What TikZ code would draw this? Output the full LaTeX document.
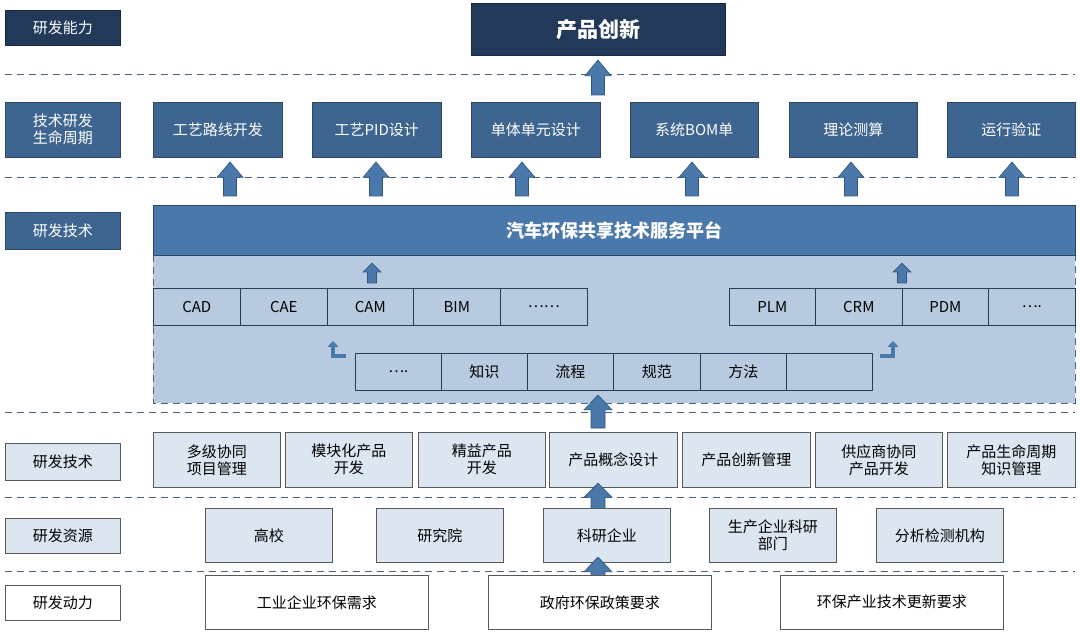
\documentclass[tikz,border=0pt]{standalone}
\usepackage{fontspec}
\setmainfont{Noto Sans CJK SC}
\usetikzlibrary{arrows.meta}
\definecolor{navy}{HTML}{22395A}
\definecolor{mblue}{HTML}{3D6590}
\definecolor{pbar}{HTML}{4A78AA}
\definecolor{panel}{HTML}{B7CADF}
\definecolor{lbox}{HTML}{DCE6F1}
\definecolor{arr}{HTML}{4A78AA}
\definecolor{arrd}{HTML}{2E5680}
\tikzset{
 bx/.style={draw=#1!70!black, line width=0.6pt, minimum height=0pt, inner sep=0pt, align=center, font=\fontsize{15}{17}\selectfont},
 dk/.style={bx=navy, fill=navy, text=white},
 md/.style={bx=mblue, fill=mblue, text=white},
 lt/.style={draw=gray!70!black, fill=lbox, line width=0.6pt, align=center, font=\fontsize{15}{17}\selectfont},
 wt/.style={draw=gray!70!black, fill=white, line width=0.6pt, align=center, font=\fontsize{15}{17}\selectfont},
 tl/.style={draw=mblue!60!black, fill=panel, line width=0.6pt, align=center, font=\fontsize{15}{17}\selectfont},
 sep/.style={dashed, dash pattern=on 7pt off 5pt, draw=navy!80, line width=1pt},
}
\newcommand{\bxat}[5]{\node[#1, minimum width=#4-#2, minimum height=#5-#3, anchor=north west] at (#2,#3)}
\newcommand{\blkarr}[4]{% x, ytop, ybot, half head width
 \pgfmathsetmacro{\hw}{#4}\pgfmathsetmacro{\sw}{#4*0.5}\pgfmathsetmacro{\hy}{#2+(#3-#2)*0.45}
 \filldraw[fill=arr, draw=arrd, line width=0.6pt] (#1,#2) -- (#1+\hw,\hy) -- (#1+\sw,\hy) -- (#1+\sw,#3) -- (#1-\sw,#3) -- (#1-\sw,\hy) -- (#1-\hw,\hy) -- cycle;}
\begin{document}
\begin{tikzpicture}[x=1pt,y=-1pt]
\useasboundingbox[fill=white] (0,0) rectangle (1080,639);
% separators
\foreach \y in {75,178,412,497,571} \draw[sep] (5,\y) -- (1075,\y);
% row 1
\bxat{dk}{5}{10}{120}{45} (L1) {研发能力};
\bxat{dk, font=\fontsize{21}{24}\selectfont\bfseries}{471}{3}{725}{55} (P) {产品创新};
\blkarr{598}{60}{95}{13}
% row 2
\bxat{md}{5}{102}{120}{157} (L2) {技术研发\\生命周期};
\bxat{md}{153}{102}{282}{157} (a1) {工艺路线开发};
\bxat{md}{312}{102}{441}{157} (a2) {工艺PID设计};
\bxat{md}{471}{102}{600}{157} (a3) {单体单元设计};
\bxat{md}{630}{102}{758}{157} (a4) {系统BOM单};
\bxat{md}{789}{102}{917}{157} (a5) {理论测算};
\bxat{md}{947}{102}{1075}{157} (a6) {运行验证};
\foreach \x in {230,376,522,692,851,1012} {\blkarr{\x}{162}{196}{13}}
% row 3
\bxat{md}{5}{212}{120}{249} (L3) {研发技术};
\draw[sep, fill=panel] (153,255) rectangle (1075,403);
\bxat{md, fill=pbar, font=\fontsize{18}{21}\selectfont\bfseries}{153}{205}{1075}{255} (plat) {汽车环保共享技术服务平台};
\blkarr{372}{263}{283}{9}
\blkarr{902}{263}{283}{9}
\bxat{tl}{153}{288}{240}{325} (t1) {CAD};
\bxat{tl}{240}{288}{327}{325} (t2) {CAE};
\bxat{tl}{327}{288}{413}{325} (t3) {CAM};
\bxat{tl}{413}{288}{500}{325} (t4) {BIM};
\bxat{tl}{500}{288}{587}{325} (t5) {……};
\bxat{tl}{729}{288}{815}{325} (t6) {PLM};
\bxat{tl}{815}{288}{902}{325} (t7) {CRM};
\bxat{tl}{902}{288}{988}{325} (t8) {PDM};
\bxat{tl}{988}{288}{1075}{325} (t9) {….};
\bxat{tl}{355}{353}{441}{390} (k1) {….};
\bxat{tl}{441}{353}{527}{390} (k2) {知识};
\bxat{tl}{527}{353}{613}{390} (k3) {流程};
\bxat{tl}{613}{353}{700}{390} (k4) {规范};
\bxat{tl}{700}{353}{786}{390} (k5) {方法};
\bxat{tl}{786}{353}{872}{390} (k6) {};
\draw[arr, line width=4.5pt, -{Triangle[length=6pt,width=11pt]}] (346,356) -- (333,356) -- (333,341);
\draw[arr, line width=4.5pt, -{Triangle[length=6pt,width=11pt]}] (880,356) -- (893,356) -- (893,341);
\blkarr{598}{395}{428}{14}
% row 4
\bxat{lt}{5}{443}{120}{480} (L4) {研发技术};
\bxat{lt}{153}{432}{280}{487} (b1) {多级协同\\项目管理};
\bxat{lt}{285}{432}{412}{487} (b2) {模块化产品\\开发};
\bxat{lt}{418}{432}{545}{487} (b3) {精益产品\\开发};
\bxat{lt}{549}{432}{677}{487} (b4) {产品概念设计};
\bxat{lt}{682}{432}{810}{487} (b5) {产品创新管理};
\bxat{lt}{815}{432}{942}{487} (b6) {供应商协同\\产品开发};
\bxat{lt}{947}{432}{1075}{487} (b7) {产品生命周期\\知识管理};
\blkarr{598}{483}{515}{14}
% row 5
\bxat{lt}{5}{518}{120}{553} (L5) {研发资源};
\bxat{lt}{205}{508}{332}{562} (c1) {高校};
\bxat{lt}{376}{508}{503}{562} (c2) {研究院};
\bxat{lt}{543}{508}{670}{562} (c3) {科研企业};
\bxat{lt}{709}{508}{836}{562} (c4) {生产企业科研\\部门};
\bxat{lt}{876}{508}{1003}{562} (c5) {分析检测机构};
\blkarr{598}{557}{590}{14}
% row 6
\bxat{wt}{5}{585}{120}{620} (L6) {研发动力};
\bxat{wt}{205}{575}{428}{629} (d1) {工业企业环保需求};
\bxat{wt}{488}{575}{711}{629} (d2) {政府环保政策要求};
\bxat{wt}{780}{575}{1003}{629} (d3) {环保产业技术更新要求};
\end{tikzpicture}
\end{document}
